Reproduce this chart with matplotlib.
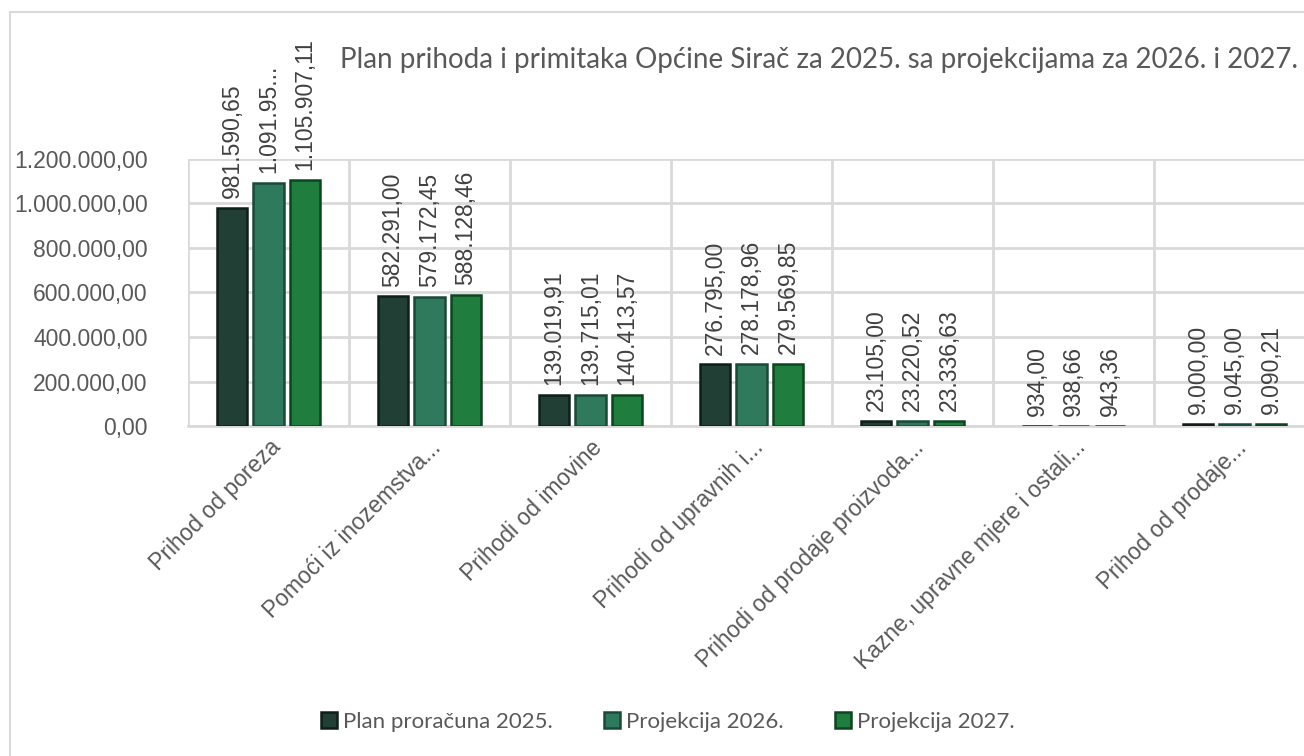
import numpy as np
import matplotlib.pyplot as plt
from matplotlib.patches import Rectangle
from matplotlib.ticker import FuncFormatter

categories = ["Prihod od poreza", "Pomoći iz inozemstva...", "Prihodi od imovine",
              "Prihodi od upravnih i...", "Prihodi od prodaje proizvoda...",
              "Kazne, upravne mjere i ostali...", "Prihod od prodaje..."]
series_names = ["Plan proračuna 2025.", "Projekcija 2026.", "Projekcija 2027."]
plan_2025 = [981590.65, 582291.00, 139019.91, 276795.00, 23105.00, 934.00, 9000.00]
proj_2026 = [1091950.00, 579172.45, 139715.01, 278178.96, 23220.52, 938.66, 9045.00]
proj_2027 = [1105907.11, 588128.46, 140413.57, 279569.85, 23336.63, 943.36, 9090.21]
labels_2025 = ["981.590,65", "582.291,00", "139.019,91", "276.795,00", "23.105,00", "934,00", "9.000,00"]
labels_2026 = ["1.091.95...", "579.172,45", "139.715,01", "278.178,96", "23.220,52", "938,66", "9.045,00"]
labels_2027 = ["1.105.907,11", "588.128,46", "140.413,57", "279.569,85", "23.336,63", "943,36", "9.090,21"]
title = "Plan prihoda i primitaka Općine Sirač za 2025. sa projekcijama za 2026. i 2027."

colors = ["#213f35", "#2f7a5c", "#1f7d3e"]
edges = ["#0e1f19", "#1a4a37", "#0d4520"]
grid_c = "#d9d9d9"
txt_c = "#595959"

W, H = 1304, 756
fig = plt.figure(figsize=(W / 100, H / 100), dpi=100)
fig.patches.append(Rectangle((10 / W, -0.05), 1.2, (H - 12) / H + 0.05, transform=fig.transFigure,
                             fill=False, edgecolor=grid_c, linewidth=1.5))

left, right, bottom, top = 188, 1315, 426, 159
ax = fig.add_axes([left / W, (H - bottom) / H, (right - left) / W, (bottom - top) / H])

x = np.arange(len(categories))
bw = 0.19
step = 0.227
data = [plan_2025, proj_2026, proj_2027]
labs = [labels_2025, labels_2026, labels_2027]
for i, (vals, lab) in enumerate(zip(data, labs)):
    pos = x + (i - 1) * step
    ax.bar(pos, vals, width=bw, color=colors[i], edgecolor=edges[i], linewidth=1.8,
           label=series_names[i], zorder=3)
    for p, v, t in zip(pos, vals, lab):
        ax.annotate(t, (p, v), xytext=(0, 7), textcoords="offset points", rotation=90,
                    ha="center", va="bottom", fontsize=16.5, color="#404040",
                    family="Liberation Sans", annotation_clip=False)

ax.set_xlim(-0.5, len(categories) - 0.5)
ax.set_ylim(0, 1200000)
ax.set_yticks(np.arange(0, 1200001, 200000))
ax.yaxis.set_major_formatter(FuncFormatter(
    lambda v, _: f"{v:,.2f}".replace(",", "X").replace(".", ",").replace("X", ".")))
ax.set_xticks(x)
ax.set_xticklabels([])
ax.set_xticks(np.arange(-0.5, len(categories), 1), minor=True)
ax.tick_params(axis="both", which="both", length=0)
ax.tick_params(axis="y", labelsize=16.5, labelcolor=txt_c, pad=29)
for lbl in ax.get_yticklabels():
    lbl.set_family("Liberation Sans")
ax.grid(axis="y", color=grid_c, linewidth=2, zorder=0)
ax.grid(axis="x", which="minor", color=grid_c, linewidth=2, zorder=0)
for s in ["top", "right", "left"]:
    ax.spines[s].set_visible(False)
ax.spines["bottom"].set_color(grid_c)
ax.spines["bottom"].set_linewidth(2)

for xi, c in zip(x, categories):
    ax.annotate(c, (xi, 0), xytext=(6, -13), textcoords="offset points", rotation=45,
                rotation_mode="anchor", ha="right", va="center", fontsize=16.5, color=txt_c,
                family="Liberation Sans", annotation_clip=False)

fig.text(340 / W, (H - 60) / H, title, fontsize=20, color=txt_c, family="Lato",
         ha="left", va="center")

leg = fig.legend(loc="center", bbox_to_anchor=(668 / W, (H - 722) / H), ncol=3, frameon=False,
                 handlelength=0.7, handleheight=0.7, handletextpad=0.3,
                 columnspacing=2.3, prop={"family": "Lato", "size": 16})
for t in leg.get_texts():
    t.set_color(txt_c)

fig.savefig("out.png", dpi=100)
